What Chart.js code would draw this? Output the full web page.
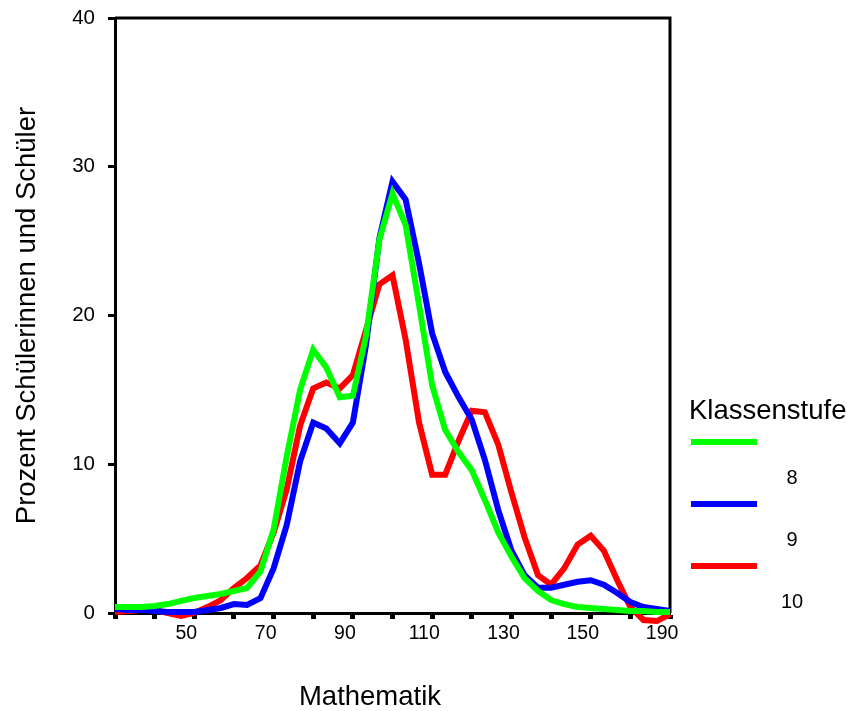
<!DOCTYPE html>
<html>
<head>
<meta charset="utf-8">
<script src="https://cdn.jsdelivr.net/npm/chart.js@4"></script>
<style>
  html, body { margin: 0; padding: 0; background: #fff; }
</style>
</head>
<body>
<canvas id="myChart" width="847" height="711"></canvas>
<script>
// Mathematik score (bin centres)
var scores = [32, 35.3, 38.7, 42, 45.3, 48.7, 52, 55.3, 58.7, 62, 65.3, 68.7, 72, 75.3, 78.7,
  82, 85.3, 88.7, 92, 95.3, 98.7, 102, 105.3, 108.7, 112, 115.3, 118.7, 122, 125.3, 128.7,
  132, 135.3, 138.7, 142, 145.3, 148.7, 152, 155.3, 158.7, 162, 165.3, 168.7, 172];

// Prozent per Klassenstufe
var grade8 = [0.4, 0.4, 0.4, 0.47, 0.6, 0.81, 1.01, 1.14, 1.28, 1.48, 1.68, 2.8, 5.6, 10.5, 15.0,
  17.7, 16.5, 14.5, 14.6, 18.6, 25.1, 28.2, 26.1, 20.7, 15.3, 12.3, 10.8, 9.6, 7.6, 5.4,
  3.8, 2.35, 1.48, 0.87, 0.6, 0.4, 0.34, 0.27, 0.2, 0.13, 0.13, 0.07, 0.07];
var grade9 = [0.27, 0.2, 0.2, 0.13, 0.07, 0.07, 0.07, 0.2, 0.34, 0.6, 0.54, 1.0, 3.0, 5.9, 10.2,
  12.8, 12.4, 11.4, 12.8, 18.0, 25.2, 29.0, 27.8, 23.5, 18.8, 16.2, 14.5, 13.0, 10.3, 6.9,
  4.2, 2.55, 1.7, 1.7, 1.9, 2.1, 2.2, 1.9, 1.35, 0.74, 0.4, 0.27, 0.13];
var grade10 = [0.07, 0.13, 0.2, 0.2, 0.0, -0.2, 0.0, 0.4, 0.87, 1.68, 2.35, 3.2, 5.4, 8.3, 12.6,
  15.1, 15.5, 15.1, 16.0, 19.0, 22.1, 22.7, 18.4, 12.8, 9.3, 9.3, 11.6, 13.6, 13.5, 11.3,
  8.1, 5.1, 2.55, 1.9, 3.0, 4.6, 5.2, 4.2, 2.2, 0.4, -0.47, -0.54, -0.07];

var gradeLabels = ['8', '9', '10'];
var gradeColors = ['#00ff00', '#0000ff', '#ff0000'];

// x axis: tick marks and labelled positions
var markValues = [32, 42, 52, 62, 72, 82, 92, 102, 112, 122, 132, 142, 152, 162, 172];
var labelValues = [50, 70, 90, 110, 130, 150, 170];
var tickLabels = ['50', '70', '90', '110', '130', '150', '190'];

var xTitle = 'Mathematik';
var yTitle = 'Prozent Schülerinnen und Schüler';
var legendTitle = 'Klassenstufe';

var FONT = 'Arial, "Liberation Sans", sans-serif';
Chart.defaults.font.family = FONT;
Chart.defaults.color = '#000';

function series(values) {
  return values.map(function(v, i) { return { x: scores[i], y: v }; });
}

var framePlugin = {
  id: 'frame',
  beforeDatasetsDraw: function(chart) {
    var ctx = chart.ctx, a = chart.chartArea;
    ctx.save();
    ctx.strokeStyle = '#000';
    ctx.lineWidth = 3;
    ctx.beginPath();
    ctx.moveTo(a.left, a.top);
    ctx.lineTo(a.right, a.top);
    ctx.lineTo(a.right, a.bottom);
    ctx.stroke();
    ctx.restore();
  }
};

var keyPlugin = {
  id: 'key',
  afterDraw: function(chart) {
    var ctx = chart.ctx;
    ctx.save();
    ctx.fillStyle = '#000';
    ctx.textBaseline = 'middle';
    ctx.textAlign = 'left';
    ctx.font = '27.5px ' + FONT;
    ctx.fillText(legendTitle, 689, 411);
    ctx.textAlign = 'center';
    ctx.font = '20px ' + FONT;
    chart.data.datasets.forEach(function(ds, i) {
      var y = 442 + i * 62;
      ctx.strokeStyle = ds.borderColor;
      ctx.lineWidth = 6;
      ctx.beginPath();
      ctx.moveTo(691, y);
      ctx.lineTo(757, y);
      ctx.stroke();
      ctx.fillText(ds.label, 792, y + 36);
    });
    ctx.font = '27.5px ' + FONT;
    ctx.fillText(xTitle, 370, 697);
    ctx.restore();
  }
};

var ctx = document.getElementById('myChart').getContext('2d');
var myChart = new Chart(ctx, {
  type: 'line',
  data: {
    datasets: [grade8, grade9, grade10].map(function(vals, i) {
      return {
        label: gradeLabels[i],
        data: series(vals),
        borderColor: gradeColors[i],
        backgroundColor: gradeColors[i],
        borderWidth: 6,
        pointRadius: 0,
        tension: 0,
        fill: false,
        clip: false
      };
    })
  },
  options: {
    responsive: false,
    animation: false,
    devicePixelRatio: 1,
    layout: { padding: { top: 18, right: 177, bottom: 0, left: 0 } },
    plugins: { legend: { display: false }, tooltip: { enabled: false } },
    scales: {
      x: {
        type: 'linear',
        min: 32,
        max: 172,
        afterBuildTicks: function(scale) {
          var vals = markValues.concat(labelValues).sort(function(a, b) { return a - b; });
          scale.ticks = vals.map(function(v) { return { value: v }; });
        },
        afterFit: function(scale) {
          scale.height = 98;
          scale.paddingLeft = 0;
          scale.paddingRight = 0;
        },
        grid: {
          drawOnChartArea: false,
          tickLength: 6,
          tickWidth: 5,
          tickColor: function(c) {
            return c.tick && markValues.indexOf(c.tick.value) >= 0 ? '#000' : 'rgba(0,0,0,0)';
          }
        },
        border: { display: true, color: '#000', width: 3 },
        ticks: {
          autoSkip: false,
          maxRotation: 0,
          padding: 3,
          font: { size: 19.5 },
          callback: function(v) {
            var k = labelValues.indexOf(v);
            return k >= 0 ? tickLabels[k] : '';
          }
        }
      },
      y: {
        min: 0,
        max: 40,
        afterFit: function(scale) {
          scale.width = 115;
          scale.paddingTop = 0;
          scale.paddingBottom = 0;
        },
        ticks: { stepSize: 10, padding: 13, font: { size: 20.5 } },
        grid: { drawOnChartArea: false, tickLength: 7, tickWidth: 3, tickColor: '#000' },
        border: { display: true, color: '#000', width: 3 },
        title: {
          display: true,
          text: yTitle,
          font: { size: 27.5 },
          padding: { top: 11, bottom: 0 }
        }
      }
    }
  },
  plugins: [framePlugin, keyPlugin]
});
</script>
</body>
</html>
